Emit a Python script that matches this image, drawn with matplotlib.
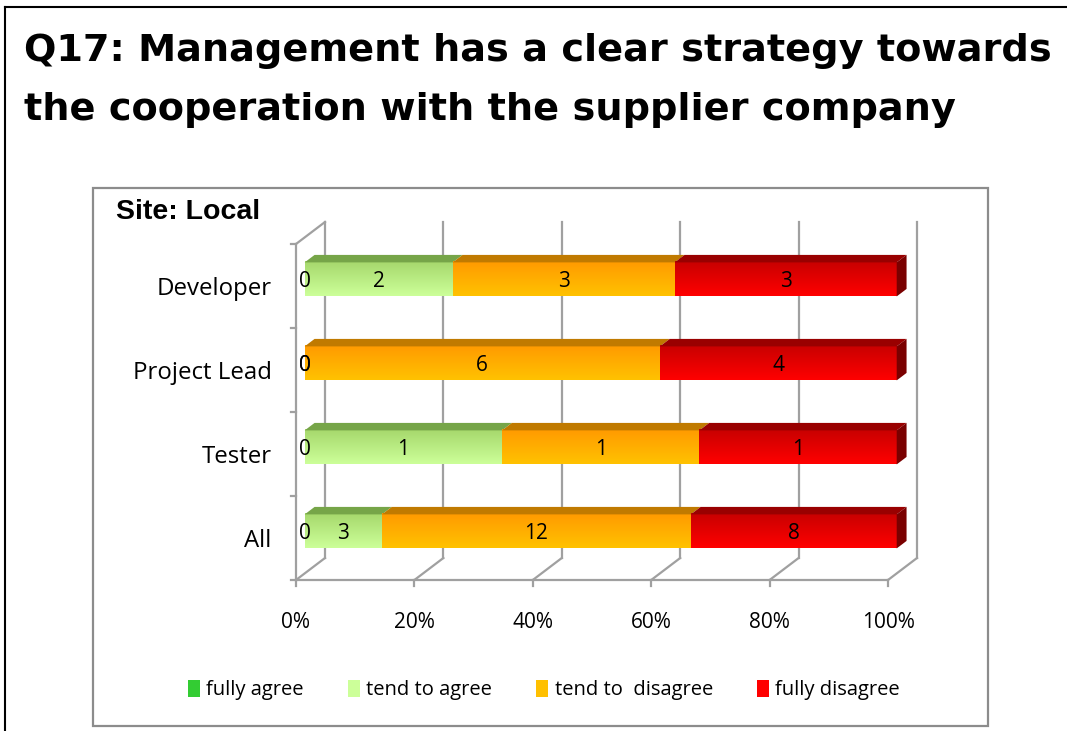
import matplotlib
matplotlib.use("Agg")
import matplotlib.pyplot as plt
import numpy as np
from matplotlib.patches import Polygon, Rectangle, Patch
from matplotlib.lines import Line2D
from matplotlib.colors import LinearSegmentedColormap

# data (counts per answer, bottom row first)
categories = ["All", "Tester", "Project Lead", "Developer"]
answers = ["fully agree", "tend to agree", "tend to  disagree", "fully disagree"]
fully_agree = [0, 0, 0, 0]
tend_to_agree = [3, 1, 0, 2]
tend_to_disagree = [12, 1, 6, 3]
fully_disagree = [8, 1, 4, 3]
x_ticks = [0, 20, 40, 60, 80, 100]
x_tick_labels = ["0%", "20%", "40%", "60%", "80%", "100%"]

title_lines = ["Q17: Management has a clear strategy towards",
               "the cooperation with the supplier company"]
subtitle = "Site: Local"

# colours: legend, front-face top, front-face bottom, top face, side face
legend_colors = ["#33cc33", "#ccff99", "#ffc000", "#ff0000"]
grad_top = ["#2aa82a", "#a6d86c", "#ff9a00", "#c80000"]
grad_bot = ["#33cc33", "#ccff99", "#ffc200", "#ff0000"]
top_face = ["#228822", "#76a548", "#c07a00", "#990000"]
side_face = ["#1a661a", "#5c8a38", "#a06000", "#7a0000"]

FONT = "Open Sans"
W, H = 1067, 731
fig = plt.figure(figsize=(W / 100, H / 100), dpi=100)

# pseudo 3d geometry (data units)
PX_PER_PCT = 5.92
PX_PER_CAT = 84.0
DX = 29 / PX_PER_PCT
DY = 22 / PX_PER_CAT
D0, D1 = 0.3, 0.64
BAR_H = 0.405
GRID = "#a0a0a0"

# axes: front 0% at px 296, front floor at px 580
ax_l, ax_r, ax_t, ax_b = 280, 935, 200, 580
ax = fig.add_axes([ax_l / W, (H - ax_b) / H, (ax_r - ax_l) / W, (ax_b - ax_t) / H])
xlim = ((ax_l - 296) / PX_PER_PCT, (ax_r - 296) / PX_PER_PCT)
ylim = (-0.5, (580 - ax_t) / PX_PER_CAT - 0.5)

n_cat = len(categories)
ybot, ytop = -0.5, n_cat - 0.5

# back wall gridlines and floor diagonals
for t in x_ticks:
    ax.plot([t + DX, t + DX], [ybot + DY, ytop + DY], color=GRID, lw=1.6, zorder=1, clip_on=False)
    ax.plot([t, t + DX], [ybot, ybot + DY], color=GRID, lw=1.6, zorder=1, clip_on=False)
    ax.plot([t, t], [ybot, ybot - 0.07], color=GRID, lw=1.6, zorder=1, clip_on=False)
# left wall
ax.plot([0, 0], [ybot, ytop], color=GRID, lw=1.6, zorder=1, clip_on=False)
ax.plot([0, DX], [ytop, ytop + DY], color=GRID, lw=1.6, zorder=1, clip_on=False)
ax.plot([0, 100], [ybot, ybot], color=GRID, lw=1.6, zorder=1, clip_on=False)
for b in np.arange(ybot, ytop + 0.01, 1.0):
    ax.plot([0, -0.85], [b, b], color=GRID, lw=1.6, zorder=1, clip_on=False)

# stacked 100% bars
series = np.array([fully_agree, tend_to_agree, tend_to_disagree, fully_disagree], dtype=float)
totals = series.sum(axis=0)
pct = series / totals * 100
ox, oy = DX * D0, DY * D0
ddx, ddy = DX * (D1 - D0), DY * (D1 - D0)
grad = np.linspace(0, 1, 64).reshape(-1, 1)

for ci in range(n_cat):
    left = 0.0
    last = max(k for k in range(len(answers)) if pct[k, ci] > 0)
    for k in range(len(answers)):
        w = pct[k, ci]
        x0, x1 = left + ox, left + w + ox
        y0, y1 = ci - BAR_H / 2 + oy, ci + BAR_H / 2 + oy
        if w > 0:
            cmap = LinearSegmentedColormap.from_list("g", [grad_bot[k], grad_top[k]])
            ax.imshow(grad, extent=(x0, x1, y0, y1), origin="lower", cmap=cmap,
                      aspect="auto", zorder=3, interpolation="bilinear")
            ax.add_patch(Polygon([(x0, y1), (x1, y1), (x1 + ddx, y1 + ddy), (x0 + ddx, y1 + ddy)],
                                 closed=True, facecolor=top_face[k], edgecolor="none", zorder=3))
            if k == last:
                ax.add_patch(Polygon([(x1, y0), (x1, y1), (x1 + ddx, y1 + ddy), (x1 + ddx, y0 + ddy)],
                                     closed=True, facecolor=side_face[k], edgecolor="none", zorder=3))
        ax.text((x0 + x1) / 2, ci + oy - 0.03, f"{int(series[k, ci])}", ha="center", va="center",
                fontsize=15, family=FONT, zorder=5)
        left += w

ax.set_xlim(*xlim)
ax.set_ylim(*ylim)
for s in ax.spines.values():
    s.set_visible(False)
ax.set_xticks(x_ticks)
ax.set_xticklabels(x_tick_labels, fontsize=15, family=FONT)
ax.tick_params(axis="x", length=0, pad=23)
ax.set_yticks(range(n_cat))
ax.set_yticklabels(categories, fontsize=17.3, family=FONT)
ax.tick_params(axis="y", length=0, pad=6)
ax.patch.set_visible(False)

# titles
fig.text(24 / W, 1 - 61 / H, title_lines[0], fontsize=27.5, fontweight="bold",
         family="DejaVu Sans", va="baseline", ha="left")
fig.text(24 / W, 1 - 120 / H, title_lines[1], fontsize=27.5, fontweight="bold",
         family="DejaVu Sans", va="baseline", ha="left")
fig.text(116 / W, 1 - 219 / H, subtitle, fontsize=20.5, fontweight="bold",
         family="Liberation Sans", va="baseline", ha="left")

# slide frame and chart box
fig.add_artist(Line2D([5 / W, 5 / W], [0, 1 - 7 / H], color="black", lw=1.5))
fig.add_artist(Line2D([5 / W, 1], [1 - 7 / H, 1 - 7 / H], color="black", lw=1.5))
fig.add_artist(Rectangle((93 / W, 1 - 726 / H), (988 - 93) / W, (726 - 188) / H,
                         transform=fig.transFigure, facecolor="none", edgecolor="#8c8c8c", lw=1.6))

# legend
handles = [Patch(facecolor=c, edgecolor="none") for c in legend_colors]
fig.legend(handles, answers, loc="center", bbox_to_anchor=(544 / W, 1 - 690 / H), ncol=4,
           frameon=False, prop={"family": FONT, "size": 14.5}, handlelength=0.6,
           handleheight=0.9, handletextpad=0.3, columnspacing=2.2)

fig.savefig("out.png", dpi=100)
